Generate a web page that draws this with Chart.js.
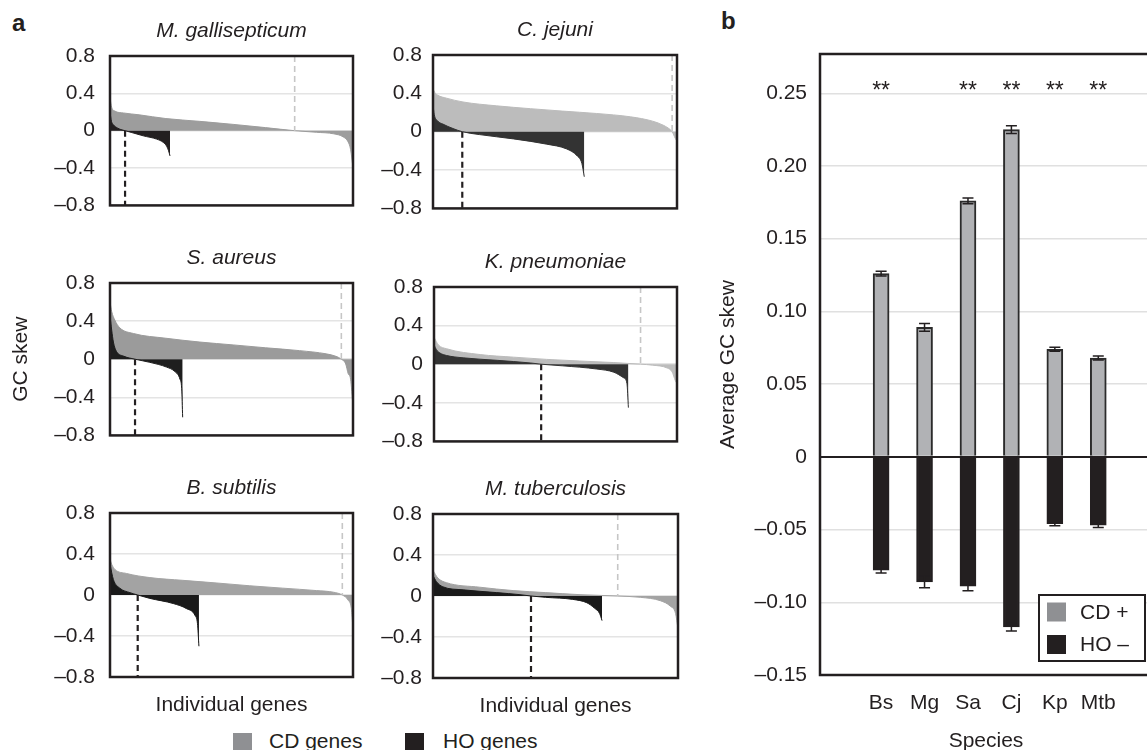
<!DOCTYPE html>
<html>
<head>
<meta charset="utf-8">
<script src="https://cdn.jsdelivr.net/npm/chart.js@4.4.0/dist/chart.umd.min.js"></script>
<style>
  html, body { margin: 0; padding: 0; background: #fff; }
  body { width: 1147px; height: 750px; overflow: hidden; position: relative;
         font-family: 'Liberation Sans', Arial, sans-serif; color: #231f20; }
  canvas { position: absolute; }
  .tag { position: absolute; font-weight: bold; font-size: 24px; line-height: 24px; }
  .key { position: absolute; font-size: 21px; line-height: 21px; white-space: nowrap; }
  .key i { position: absolute; left: 0; top: 3px; width: 19px; height: 19px; }
</style>
</head>
<body>
<div class="tag" style="left:12px;top:11px">a</div>
<div class="tag" style="left:721px;top:9px">b</div>
<div class="key" style="left:233px;top:730px"><i style="background:#8f9093"></i><span style="margin-left:36px">CD genes</span></div>
<div class="key" style="left:405px;top:730px"><i style="background:#231f20"></i><span style="margin-left:38px">HO genes</span></div>

<script>
// panel a: sorted GC skew per gene, [rank %, skew]
const mgCD = [[0, 0.35], [0.7, 0.25], [2, 0.21], [5.5, 0.19], [12, 0.17], [23, 0.13], [37, 0.1], [51, 0.067], [64, 0.033], [76, 0], [85, -0.017], [92, -0.033], [96, -0.067], [98, -0.12], [99, -0.2], [100, -0.4]];
const mgHO = [[0, 0.2], [0.6, 0.1], [1.5, 0.06], [3, 0.03], [4.5, 0.012], [6.2, 0], [9, -0.02], [13.7, -0.055], [19.2, -0.09], [21.9, -0.125], [23.3, -0.165], [24.1, -0.215], [24.7, -0.27]];
const cjCD = [[0, 0.45], [0.7, 0.41], [2, 0.38], [5.5, 0.35], [12.3, 0.31], [26, 0.27], [40, 0.24], [53, 0.215], [67, 0.19], [81, 0.155], [90, 0.11], [94.5, 0.066], [97.3, 0.02], [98, 0], [99.3, -0.07], [100, -0.1]];
const cjHO = [[0, 0.28], [0.5, 0.18], [2, 0.11], [4, 0.08], [8.2, 0.033], [12, 0], [19, -0.03], [33, -0.075], [46.6, -0.13], [54.8, -0.18], [59, -0.25], [61, -0.33], [62, -0.47]];
const saCD = [[0, 0.6], [0.7, 0.5], [2, 0.41], [4, 0.33], [9.6, 0.27], [23, 0.22], [37, 0.18], [50.7, 0.15], [64, 0.12], [78, 0.09], [89, 0.056], [93, 0.03], [95.2, 0], [97, -0.05], [98, -0.15], [99, -0.21], [100, -0.5]];
const saHO = [[0, 0.45], [1.4, 0.18], [2.7, 0.08], [5.5, 0.033], [10.3, 0], [16.4, -0.033], [23.3, -0.083], [26.7, -0.13], [28.8, -0.21], [29.5, -0.31], [29.9, -0.61]];
const kpCD = [[0, 0.28], [1.8, 0.2], [5.2, 0.16], [19, 0.1], [32.7, 0.073], [46.4, 0.05], [60, 0.033], [74, 0.017], [85, 0], [90, -0.01], [96, -0.04], [98, -0.08], [99.3, -0.17], [100, -0.2]];
const kpHO = [[0, 0.2], [1, 0.15], [2.5, 0.115], [5.2, 0.09], [12, 0.066], [26, 0.04], [39.6, 0.013], [44.1, 0], [53, -0.017], [67, -0.05], [74, -0.083], [78, -0.14], [79.4, -0.2], [80, -0.45]];
const bsCD = [[0, 0.35], [0.7, 0.3], [2, 0.25], [6.8, 0.21], [16.4, 0.17], [30, 0.143], [44, 0.117], [57.5, 0.09], [71, 0.067], [85, 0.043], [92, 0.027], [95.6, 0], [98, -0.05], [99.3, -0.13], [100, -0.33]];
const bsHO = [[0, 0.3], [1.4, 0.15], [4, 0.067], [8.2, 0.023], [11.4, 0], [16.4, -0.033], [26, -0.083], [31.5, -0.133], [35, -0.2], [36, -0.28], [36.6, -0.5]];
const mtbCD = [[0, 0.25], [2, 0.175], [5.5, 0.13], [19, 0.086], [32.7, 0.053], [46, 0.033], [60, 0.013], [75.4, 0], [84.6, -0.013], [92.8, -0.046], [96.9, -0.1], [99, -0.17], [100, -0.32]];
const mtbHO = [[0, 0.2], [1.4, 0.14], [4, 0.09], [12.3, 0.06], [26, 0.033], [35.5, 0.013], [40, 0], [46, -0.013], [57, -0.033], [62.8, -0.066], [66, -0.12], [68, -0.17], [69, -0.24]];

// panel b: average GC skew per species
const species = ['Bs', 'Mg', 'Sa', 'Cj', 'Kp', 'Mtb'];
const cdMean = [0.126, 0.089, 0.176, 0.225, 0.074, 0.068];
const cdErr = [0.0016, 0.0027, 0.002, 0.0027, 0.0014, 0.0014];
const hoMean = [-0.078, -0.086, -0.089, -0.117, -0.046, -0.047];
const hoErr = [0.0018, 0.004, 0.003, 0.0027, 0.0014, 0.0016];
const signif = ['**', '', '**', '**', '**', '**'];

const FONT = "'Liberation Sans', Arial, sans-serif";
const INK = '#231f20';
Chart.defaults.font.family = FONT;
Chart.defaults.font.size = 21;
Chart.defaults.color = INK;

// 테두리
const frame = {
    id: 'frame',
    afterDatasetsDraw(chart) {
        const { ctx, chartArea: a } = chart;
        ctx.save();
        ctx.lineWidth = 2.5;
        ctx.strokeStyle = INK;
        ctx.strokeRect(a.left, a.top, a.right - a.left, a.bottom - a.top);
        ctx.restore();
    }
};

function addCanvas(left, top, w, h) {
    const c = document.createElement('canvas');
    c.width = w;
    c.height = h;
    c.style.left = left + 'px';
    c.style.top = top + 'px';
    document.body.appendChild(c);
    return c;
}

const pts = arr => arr.map(([x, y]) => ({ x, y }));
const zeroAt = arr => arr.find(p => p[1] === 0)[0];

const panels = [
    { title: 'M. gallisepticum', cd: mgCD, ho: mgHO, gray: '#9d9d9d', dark: '#231f20', left: 0, top: 56, yW: 110, w: 243, h: 161, pad: 15 },
    { title: 'C. jejuni', cd: cjCD, ho: cjHO, gray: '#bcbcbc', dark: '#333333', left: 360, top: 55, yW: 73, w: 244, h: 161, pad: 11 },
    { title: 'S. aureus', cd: saCD, ho: saHO, gray: '#9b9b9b', dark: '#1e1e1e', left: 0, top: 283, yW: 110, w: 243, h: 164, pad: 15, yTitle: true },
    { title: 'K. pneumoniae', cd: kpCD, ho: kpHO, gray: '#bcbcbc', dark: '#333333', left: 360, top: 287, yW: 74, w: 243, h: 162, pad: 11 },
    { title: 'B. subtilis', cd: bsCD, ho: bsHO, gray: '#a3a3a3', dark: '#1a1a1a', left: 0, top: 513, yW: 110, w: 243, h: 164, pad: 15, xTitle: true },
    { title: 'M. tuberculosis', cd: mtbCD, ho: mtbHO, gray: '#a3a3a3', dark: '#1a1a1a', left: 360, top: 514, yW: 73, w: 245, h: 164, pad: 11, xTitle: true }
];

panels.forEach(p => {
    const xH = p.xTitle ? 45 : 16;
    const canvas = addCanvas(p.left, p.top - 37, p.yW + p.w + 4, 37 + p.h + xH);
    const hz = zeroAt(p.ho);
    const cz = zeroAt(p.cd);

    new Chart(canvas, {
        type: 'line',
        data: {
            datasets: [
                { data: [{ x: hz, y: 0 }, { x: hz, y: -0.8 }], borderColor: INK, borderWidth: 2.2, borderDash: [6, 4], pointRadius: 0, fill: false, tension: 0 },
                { data: [{ x: cz, y: 0.8 }, { x: cz, y: 0 }], borderColor: '#c6c6c6', borderWidth: 1.6, borderDash: [6, 4], pointRadius: 0, fill: false, tension: 0 },
                { data: pts(p.ho), backgroundColor: p.dark, borderColor: p.dark, borderWidth: 1, pointRadius: 0, fill: 'origin', cubicInterpolationMode: 'monotone' },
                { data: pts(p.cd), backgroundColor: p.gray, borderColor: p.gray, borderWidth: 1, pointRadius: 0, fill: 'origin', cubicInterpolationMode: 'monotone' }
            ]
        },
        options: {
            responsive: false,
            animation: false,
            devicePixelRatio: 1,
            layout: { padding: { top: 0, right: 4, bottom: 0, left: 0 } },
            plugins: {
                legend: { display: false },
                tooltip: { enabled: false },
                title: {
                    display: true, text: p.title, fullSize: false, color: INK,
                    font: { size: 21, style: 'italic', weight: 'normal', lineHeight: '25px' },
                    padding: { top: 0, bottom: 12 }
                }
            },
            scales: {
                x: {
                    type: 'linear', min: 0, max: 100,
                    grid: { display: false }, border: { display: false }, ticks: { display: false },
                    title: { display: !!p.xTitle, text: 'Individual genes', font: { size: 21, lineHeight: '25px' }, padding: { top: 0, bottom: 4 } },
                    afterFit: s => { s.height = xH; }
                },
                y: {
                    min: -0.8, max: 0.8,
                    border: { display: false },
                    grid: { color: '#e4e4e4', lineWidth: 1.5, drawTicks: false },
                    ticks: {
                        stepSize: 0.2, padding: p.pad,
                        callback: v => {
                            const k = Math.round(v * 10);
                            if (k % 4 !== 0) return '';
                            return k === 0 ? '0' : (k < 0 ? '\u2013' : '') + Math.abs(v).toFixed(1);
                        }
                    },
                    title: { display: !!p.yTitle, text: 'GC skew', font: { size: 21, lineHeight: '25px' }, padding: { top: 9, bottom: 0 } },
                    afterFit: s => { s.width = p.yW; }
                }
            }
        },
        plugins: [frame]
    });
});

// 오차 막대
const errorBars = {
    id: 'errorBars',
    afterDatasetsDraw(chart) {
        const { ctx } = chart;
        const yS = chart.scales.y;
        ctx.save();
        ctx.strokeStyle = INK;
        ctx.lineWidth = 1.5;
        chart.data.datasets.forEach((ds, di) => {
            chart.getDatasetMeta(di).data.forEach((bar, i) => {
                const v = ds.data[i].y, e = ds.errors[i];
                const y1 = yS.getPixelForValue(v + e), y2 = yS.getPixelForValue(v - e);
                ctx.beginPath();
                ctx.moveTo(bar.x, y1); ctx.lineTo(bar.x, y2);
                ctx.moveTo(bar.x - 5.5, y1); ctx.lineTo(bar.x + 5.5, y1);
                ctx.moveTo(bar.x - 5.5, y2); ctx.lineTo(bar.x + 5.5, y2);
                ctx.stroke();
            });
        });
        ctx.restore();
    }
};

// 유의성 표시
const stars = {
    id: 'stars',
    afterDatasetsDraw(chart) {
        const { ctx, scales } = chart;
        ctx.save();
        ctx.font = '23px ' + FONT;
        ctx.fillStyle = INK;
        ctx.textAlign = 'center';
        ctx.textBaseline = 'alphabetic';
        signif.forEach((s, i) => {
            if (s) ctx.fillText(s, scales.x.getPixelForValue(i), scales.y.getPixelForValue(0.247));
        });
        ctx.restore();
    }
};

// 범례 상자
const boxLegend = {
    id: 'boxLegend',
    afterDatasetsDraw(chart) {
        const { ctx, chartArea: a } = chart;
        const x = a.right - 113, y = a.bottom - 80;
        ctx.save();
        ctx.fillStyle = '#fff';
        ctx.fillRect(x, y, 106, 66);
        ctx.lineWidth = 2;
        ctx.strokeStyle = INK;
        ctx.strokeRect(x, y, 106, 66);
        ctx.font = '21px ' + FONT;
        ctx.textBaseline = 'middle';
        chart.data.datasets.forEach((ds, i) => {
            const sy = y + 7.5 + i * 32.5;
            ctx.fillStyle = ds.swatch;
            ctx.fillRect(x + 8, sy, 19, 19);
            ctx.fillStyle = INK;
            ctx.fillText(ds.label, x + 41, sy + 10.5);
        });
        ctx.restore();
    }
};

const barCanvas = addCanvas(700, 0, 460, 760);
new Chart(barCanvas, {
    type: 'bar',
    data: {
        datasets: [
            { label: 'CD +', data: cdMean.map((v, i) => ({ x: i, y: v })), errors: cdErr, swatch: '#8f9093',
              backgroundColor: '#b1b2b5', borderColor: '#2b2b2b', borderWidth: 2, barThickness: 16, grouped: false },
            { label: 'HO \u2013', data: hoMean.map((v, i) => ({ x: i, y: v })), errors: hoErr, swatch: INK,
              backgroundColor: INK, borderColor: INK, borderWidth: 2, barThickness: 16, grouped: false }
        ]
    },
    options: {
        responsive: false,
        animation: false,
        devicePixelRatio: 1,
        layout: { padding: { top: 54, right: 8, bottom: 0, left: 0 } },
        plugins: { legend: { display: false }, tooltip: { enabled: false } },
        scales: {
            x: {
                type: 'linear', min: -0.77, max: 5.6,
                grid: { display: false }, border: { display: false },
                ticks: { stepSize: 1, includeBounds: false, autoSkip: false, padding: 8, callback: v => species[v] ?? '' },
                title: { display: true, text: 'Species', font: { size: 21, lineHeight: '25px' }, padding: { top: 0, bottom: 6 } },
                afterFit: s => { s.height = 85; }
            },
            y: {
                min: -0.15, max: 0.277,
                border: { display: false },
                grid: {
                    drawTicks: false,
                    color: c => Math.abs(c.tick.value) < 1e-9 ? INK : '#e0e0e0',
                    lineWidth: c => Math.abs(c.tick.value) < 1e-9 ? 2 : 1.5
                },
                ticks: {
                    stepSize: 0.05, padding: 13,
                    callback: v => {
                        const k = v / 0.05;
                        if (Math.abs(k - Math.round(k)) > 1e-6) return null;
                        if (Math.abs(v) < 1e-9) return '0';
                        return (v < 0 ? '\u2013' : '') + Math.abs(v).toFixed(2);
                    }
                },
                title: { display: true, text: 'Average GC skew', font: { size: 21, lineHeight: '25px' }, padding: { top: 15.5, bottom: 0 } },
                afterFit: s => { s.width = 120; }
            }
        }
    },
    plugins: [errorBars, stars, boxLegend, frame]
});
</script>
</body>
</html>
